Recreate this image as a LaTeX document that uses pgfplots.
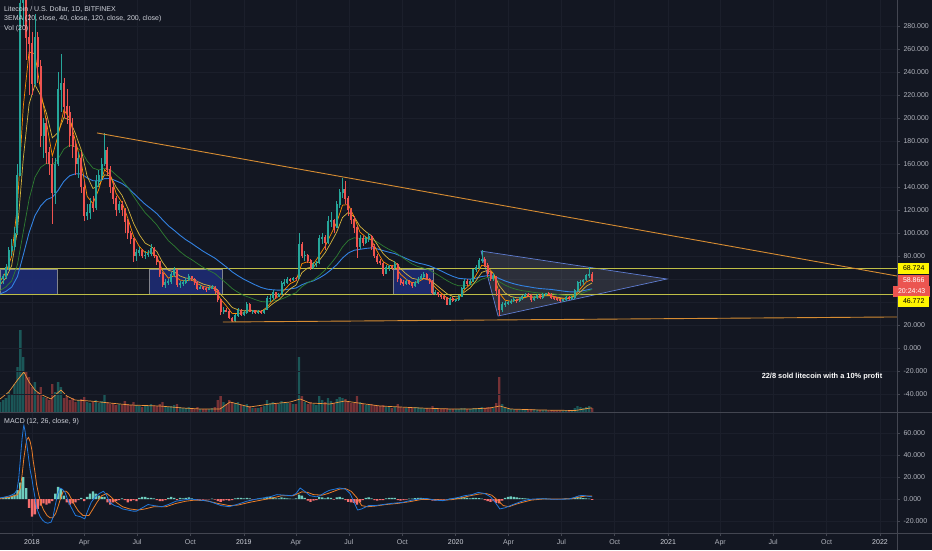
\documentclass[border=0pt]{standalone}
\usepackage{fontspec}
\setmainfont{Liberation Sans}
\usepackage{pgfplots}
\usepackage{pgfplotstable}
\pgfplotsset{compat=1.18}
\definecolor{bg}{RGB}{19,23,34}
\definecolor{gridc}{RGB}{27,31,43}
\definecolor{sepc}{RGB}{67,70,81}
\definecolor{lblc}{RGB}{178,181,190}
\definecolor{txtc}{RGB}{209,212,220}
\definecolor{upc}{RGB}{38,166,154}
\definecolor{dnc}{RGB}{239,83,80}
\definecolor{emaa}{RGB}{255,140,0}
\definecolor{emab}{RGB}{214,180,60}
\definecolor{emac}{RGB}{46,125,50}
\definecolor{emad}{RGB}{50,130,225}
\definecolor{trend}{RGB}{214,140,50}
\definecolor{hline}{RGB}{190,190,70}
\definecolor{rectf}{RGB}{30,44,115}
\definecolor{rectd}{RGB}{130,132,140}
\definecolor{tri}{RGB}{95,125,210}
\definecolor{trif}{RGB}{160,160,170}
\definecolor{macdb}{RGB}{33,120,220}
\definecolor{macdo}{RGB}{235,125,40}
\definecolor{hpos}{RGB}{110,205,190}
\definecolor{hneg}{RGB}{245,110,110}
\definecolor{volma}{RGB}{240,150,60}
\definecolor{boxy}{RGB}{255,245,0}
\definecolor{boxr}{RGB}{235,85,80}

\pgfplotstableread{
d o h l c v
-55 57 62 55 60 10
-50 60 64 56 62 12
-45 62 73 60 70 14
-40 70 88 68 85 20
-35 85 95 80 88 18
-30 88 105 85 100 28
-25 100 160 98 150 45
-20 150 380 150 300 82
-15 300 370 280 320 55
-10 320 330 250 270 40
-5 270 290 220 265 35
0 265 275 220 230 25
5 230 290 228 270 30
10 270 275 230 245 20
15 245 250 175 185 25
20 185 200 165 195 15
25 195 200 160 170 14
30 170 175 150 160 12
35 160 165 108 135 28
40 135 165 125 160 20
45 160 240 158 225 30
50 225 256 205 230 25
55 230 235 200 210 14
60 210 225 195 205 16
65 205 210 175 185 12
70 185 200 165 175 14
75 175 180 150 160 10
80 160 170 148 165 12
85 165 170 135 140 13
90 140 145 110 115 15
95 115 125 111 118 10
100 118 130 112 125 9
105 125 132 118 122 10
110 122 150 120 145 12
115 145 155 140 150 9
120 150 165 145 160 11
125 160 187 158 172 18
130 172 175 150 155 10
135 155 158 135 140 8
140 140 145 125 130 9
145 130 132 115 120 7
150 120 128 117 125 8
155 125 128 115 120 7
160 120 122 100 110 11
165 110 112 95 100 8
170 100 102 90 95 7
175 95 96 75 80 10
180 80 86 76 83 7
185 83 88 80 85 6
190 85 86 78 80 5
195 80 84 77 81 6
200 81 85 79 82 6
205 82 90 80 87 8
210 87 88 78 80 6
215 80 81 72 75 6
220 75 76 62 65 8
225 65 66 53 55 10
230 55 60 52 57 6
235 57 60 55 58 5
240 58 66 56 64 6
245 64 70 62 68 7
250 68 69 53 55 8
255 55 58 52 56 5
260 56 59 54 57 4
265 57 61 56 59 4
270 59 64 58 62 5
275 62 63 58 60 4
280 60 61 55 57 3
285 57 58 50 52 5
290 52 55 51 53 3
295 53 54 50 52 3
300 52 53 49 51 3
305 51 54 50 52 3
310 52 55 51 53 4
315 53 54 47 50 5
320 50 51 40 42 12
325 42 43 29 32 16
330 32 36 30 33 10
335 33 35 31 32 8
340 32 34 25 26 12
345 26 27 22.5 24 10
350 24 30 23 28 9
355 28 35 27 33 10
360 33 34 28 29 7
365 29 32 28 31 6
370 31 40 30 38 8
375 38 39 31 32 6
380 32 33 30 32.5 4
385 32.5 33 30 31 4
390 31 33 30 32 4
395 32 33 30 31 5
400 31 34 30 33 6
405 33 45 33 43 12
410 43 46 40 43.5 9
415 43.5 50 42 48 10
420 48 49 43 45 8
425 45 48 44 47 8
430 47 58 46 56 11
435 56 60 54 57 10
440 57 62 56 60 9
445 60 61 57 59 9
450 59 62 58 61 8
455 61 62 58 60 8
460 60 100 60 90 55
465 90 92 78 80 16
470 80 84 76 81 10
475 81 82 74 76 8
480 76 77 68 70 10
485 70 75 69 73 8
490 73 76 70 74 7
495 74 98 73 95 16
500 95 100 90 96 12
505 96 98 85 92 10
510 92 115 90 110 14
515 110 118 105 111 11
520 111 112 100 105 9
525 105 128 104 125 13
530 125 138 122 135 15
535 135 148 130 138 14
540 138 145 125 130 13
545 130 132 115 120 11
550 120 122 108 112 9
555 112 115 100 105 9
560 105 106 78 88 16
565 88 98 86 95 10
570 95 97 89 92 8
575 92 97 90 95 7
580 95 100 92 97 7
585 97 98 85 88 8
590 88 90 78 80 7
595 80 82 73 75 6
600 75 77 72 74 6
605 74 75 63 65 7
610 65 72 64 70 5
615 70 72 67 71 5
620 71 72 68 70 4
625 70 76 69 73 5
630 73 74 57 60 8
635 60 61 55 57 5
640 57 59 54 56 4
645 56 60 55 58 4
650 58 59 55 56 4
655 56 57 52 54 4
660 54 58 53 57 5
665 57 62 56 60 5
670 60 64 59 62 4
675 62 66 61 64 4
680 64 65 59 60 4
685 60 61 56 58 3
690 58 59 46 48 6
695 48 50 46 48.5 4
700 48.5 49 44 46 3
705 46 47 43 45 3
710 45 46 42 43 3
715 43 44 37 38 4
720 38 44 37 43 3
725 43 44 40 41 3
730 41 43 40 42 3
735 42 46 41 45 3
740 45 53 44 52 4
745 52 60 51 58 4
750 58 60 54 56 3
755 56 60 55 58 3
760 58 69 57 68 4
765 68 72 66 70 4
770 70 78 69 76 4
775 76 85 74 77 5
780 77 79 70 72 4
785 72 74 62 65 5
790 65 67 58 60 5
795 60 65 58 62 4
800 62 63 45 50 9
805 50 51 28 33 35
810 33 40 31 38 8
815 38 41 36 39 4
820 39 41 37 39.5 3
825 39.5 43 38 41 3
830 41 44 40 42 3
835 42 43 39 41 2.5
840 41 44 40 43 2.5
845 43 46 42 45 3
850 45 48 44 47 3
855 47 48 44 46 3
860 46 47 40 42 3
865 42 45 41 44 2.5
870 44 47 43 46 2.5
875 46 47 43 44 2
880 44 48 43 47 2
885 47 48 45 47.5 2
890 47.5 49 46 47 2
895 47 48 43 44 2
900 44 45 42 43 1.5
905 43 44 41 42 1.5
910 42 43 40 41 1.5
915 41 43 40 42 1.5
920 42 45 41 44 2
925 44 45 42 43 1.5
930 43 45 42 44 2
935 44 51 43 50 4
940 50 58 49 57 6
945 57 59 54 57.5 5
950 57.5 60 55 59 4
955 59 64 58 63 5
960 63 70 61 64 6
965 64 66 57 58.9 4
}\candles

\pgfplotstableread{
d e20 e40 e120 e200
-55 58 55 50 47
-45 65.6 60.9 53.1 49.2
-35 79.8 71.6 58.4 52.9
-25 124.2 102.5 72.4 62.1
-15 210.0 164.6 101.1 80.9
-5 257.4 212.0 129.2 100.3
5 255.9 228.9 148.4 115.0
15 223.7 219.5 157.1 123.6
25 196.1 203.9 160.6 129.0
35 167.0 182.7 159.0 131.0
45 184.7 187.5 164.5 137.1
55 207.0 200.3 173.0 145.0
65 199.4 198.2 176.4 149.8
75 179.6 186.3 175.1 151.5
85 160.9 172.0 171.3 151.4
95 131.9 149.5 162.7 147.9
105 125.6 138.7 156.5 145.4
115 137.9 141.2 154.7 145.4
125 155.0 150.6 156.3 147.3
135 150.6 149.6 155.0 147.4
145 134.4 139.9 150.4 145.3
155 126.6 132.8 146.1 143.1
165 113.0 121.8 139.8 139.5
175 97.2 108.5 131.9 134.6
185 88.2 98.5 124.4 129.7
195 83.0 91.2 117.6 125.0
205 83.6 88.4 112.5 121.1
215 79.4 83.9 107.1 116.9
225 67.1 74.5 99.9 111.5
235 60.7 67.6 93.3 106.3
245 62.8 66.2 88.8 102.3
255 59.1 62.6 83.9 98.0
265 58.4 60.8 79.9 94.2
275 59.4 60.5 76.9 91.0
285 56.0 57.9 73.4 87.5
295 53.5 55.6 70.1 84.1
305 52.6 54.2 67.3 81.1
315 51.6 52.9 64.8 78.2
325 42.4 46.6 60.5 74.3
335 36.5 41.2 56.3 70.4
345 29.9 35.2 51.7 66.2
355 30.0 33.2 48.4 62.8
365 30.6 32.3 45.7 59.8
375 32.7 33.0 43.9 57.3
385 31.9 32.4 42.0 54.8
395 31.6 32.0 40.4 52.6
405 35.6 34.4 40.0 51.2
415 41.5 38.6 40.8 50.6
425 45.0 41.9 41.7 50.3
435 50.7 46.7 43.6 50.6
445 56.0 51.5 46.0 51.4
455 58.5 54.8 48.1 52.2
465 73.4 65.5 53.3 55.0
475 75.0 69.6 56.8 57.0
485 73.1 70.5 59.1 58.4
495 80.6 76.2 63.1 60.9
505 88.4 82.8 67.7 64.0
515 98.9 91.5 73.4 67.9
525 109.1 100.8 79.8 72.4
535 124.2 113.5 87.9 78.2
545 124.7 118.0 93.6 82.6
555 114.1 114.1 95.8 85.0
565 100.8 105.8 95.4 85.8
575 96.5 101.2 95.2 86.6
585 93.7 97.6 94.7 87.1
595 83.8 89.9 92.1 86.2
605 75.1 82.1 88.7 84.7
615 71.9 77.3 85.8 83.3
625 71.3 74.8 83.5 82.1
635 64.2 69.0 79.9 80.0
645 59.7 64.3 76.4 77.8
655 56.7 60.6 73.1 75.6
665 57.5 59.6 70.8 73.9
675 60.3 60.5 69.5 72.8
685 58.8 59.5 67.7 71.4
695 52.6 55.4 64.8 69.3
705 47.8 51.3 61.8 67.0
715 43.5 47.2 58.6 64.5
725 41.9 44.8 55.9 62.3
735 43.2 44.5 54.1 60.6
745 50.7 48.6 54.2 60.1
755 55.3 52.3 54.8 59.9
765 63.3 58.5 56.8 60.7
775 72.0 65.8 59.9 62.2
785 70.7 67.5 61.4 62.9
795 64.6 64.9 61.3 62.7
805 47.8 54.3 57.7 60.4
815 41.6 47.9 54.7 58.3
825 40.6 44.8 52.5 56.6
835 41.5 43.7 50.9 55.2
845 43.1 43.8 49.8 54.1
855 44.9 44.7 49.2 53.3
865 44.0 44.2 48.3 52.4
875 44.6 44.5 47.8 51.7
885 46.1 45.5 47.7 51.3
895 45.4 45.3 47.4 50.9
905 43.6 44.2 46.6 50.2
915 42.6 43.3 45.9 49.5
925 43.2 43.4 45.5 48.9
935 45.8 44.9 45.7 48.7
945 51.6 48.9 47.1 49.3
955 57.5 53.7 49.2 50.4
965 59.7 56.6 50.9 51.4
}\ema

\pgfplotstableread{
d h
-55 1
-50 1.5
-45 2
-40 2
-35 3
-30 4
-25 8
-20 15
-15 20
-10 10
-5 -8
0 -16
5 -14
10 -9
15 -6
20 -4
25 -5
30 -4
35 -2
40 5
45 11
50 9
55 3
60 -3
65 -5
70 -4
75 -3
80 -1
85 1
90 -2
95 2
100 5
105 7
110 5
115 3
120 2
125 2
130 -3
135 -5
140 -3
145 -2
150 -1
155 0.5
160 -1
165 -3
170 -2
175 -1
180 -2
185 1
190 2
195 2
200 1
205 1
210 0.5
215 -1
220 -2
225 -2
230 -1
235 1
240 2
245 1
250 -1
255 1
260 0.5
265 1
270 1.5
275 0.5
280 -0.5
285 -1
290 -0.5
295 -0.5
300 -0.3
305 -0.3
310 0.3
315 -0.5
320 -2
325 -2.5
330 -1.5
335 -1
340 -1.5
345 -1
350 0.5
355 1
360 1
365 0.5
370 1
375 0.5
380 -0.5
385 -0.3
390 0.3
395 0.3
400 0.5
405 2
410 2
415 1.5
420 0.5
425 0.5
430 1.5
435 1
440 0.5
445 0.3
450 0.2
455 0.5
460 4
465 3
470 1
475 -1.5
480 -2.5
485 -1.5
490 -1
495 2
500 1.5
505 0.5
510 1.5
515 1
520 -0.5
525 1.5
530 2
535 1
540 -1
545 -2.5
550 -3
555 -3.5
560 -5
565 -3
570 -1
575 1
580 1.5
585 0.5
590 -1
595 -1.5
600 -1
605 -1
610 0.5
615 1
620 1
625 1
630 -1
635 -1.5
640 -1
645 -0.5
650 0.3
655 0.3
660 0.8
665 1
670 1
675 0.8
680 -0.3
685 -0.8
690 -1.5
695 -1.5
700 -1
705 -0.5
710 -0.5
715 -0.5
720 0.3
725 0.5
730 0.8
735 1
740 1.5
745 1.5
750 1
755 0.5
760 1
765 1
770 0.8
775 0.3
780 -1
785 -2
790 -2.5
795 -2
800 -3.5
805 -4
810 -1.5
815 1
820 2
825 2.5
830 2
835 1.5
840 1
845 0.8
850 0.5
855 0.3
860 -0.3
865 -0.3
870 0.2
875 0.1
880 0.3
885 0.3
890 0.2
895 -0.3
900 -0.3
905 -0.3
910 -0.2
915 0.2
920 0.3
925 0.2
930 0.5
935 1.5
940 2
945 1.5
950 0.8
955 0.5
960 0.3
965 -0.8
}\hist

\pgfplotsset{
  tvbase/.style={
    scale only axis, width=897pt, anchor=south west,
    xmin=-55.1, xmax=1490.3,
    axis line style={draw=none},
    tick style={draw=sepc, line width=0.5pt},
    major tick length=3pt, tick align=outside,
    every tick label/.append style={font=\fontsize{7}{8}\selectfont, text=lblc},
    major grid style={draw=gridc, line width=0.6pt},
  },
  dateticks/.style={xtick={0,90,181,273,365,455,546,638,730,821,912,1004,1096,1186,1277,1369,1461}},
}

\begin{document}
\begin{tikzpicture}
\fill[bg] (0pt,0pt) rectangle (932pt,550pt);

% ---------------- volume (background of main panel)
\begin{axis}[tvbase, at={(0pt,138pt)}, height=412pt, ymin=0, ymax=412,
  dateticks, xticklabels={}, ytick=\empty, xmajorgrids, major tick length=0pt]
\addplot[ybar, bar width=2.3pt, bar shift=0pt, fill=upc, fill opacity=0.45, draw=none,
  restrict expr to domain={\thisrow{c}-\thisrow{o}}{0:10000}] table[x=d, y=v]{\candles};
\addplot[ybar, bar width=2.3pt, bar shift=0pt, fill=dnc, fill opacity=0.45, draw=none,
  restrict expr to domain={\thisrow{c}-\thisrow{o}}{-10000:-0.001}] table[x=d, y=v]{\candles};
\addplot[volma, line width=0.7pt] coordinates {(-55,13) (-40,20) (-25,32) (-14,40) (-5,30) (5,22) (14,18) (25,15) (33,13) (42,18) (50,22) (60,16) (74,12) (100,11) (134,9) (169,7) (220,6) (260,4) (290,3) (324,3) (341,10) (355,8) (375,5) (410,8) (445,10) (462,13) (479,9) (513,8) (539,11) (574,8) (600,6) (634,5) (669,4) (721,3) (755,3) (789,4) (806,6) (824,3) (875,2) (936,1.5) (962,4) (965,4)};
\end{axis}

% ---------------- price panel
\begin{axis}[tvbase, at={(0pt,138pt)}, height=412pt, ymin=-55.65, ymax=302.6,
  xtick=\empty,
  ytick={-40,-20,0,20,40,60,80,100,120,140,160,180,200,220,240,260,280},
  yticklabels={-40.000,-20.000,0.000,20.000,{},{},80.000,100.000,120.000,140.000,160.000,180.000,200.000,220.000,240.000,260.000,280.000},
  ytick pos=right, yticklabel pos=right, ymajorgrids]
% blue boxes
\addplot[fill=rectf, fill opacity=0.9, draw=rectd, line width=0.5pt] coordinates {(-55.1,46.772) (43,46.772) (43,68.724) (-55.1,68.724)} -- cycle;
\addplot[fill=rectf, fill opacity=0.9, draw=rectd, line width=0.5pt] coordinates {(202,46.772) (327,46.772) (327,68.724) (202,68.724)} -- cycle;
\addplot[fill=rectf, fill opacity=0.9, draw=rectd, line width=0.5pt] coordinates {(622,46.772) (692,46.772) (692,68.724) (622,68.724)} -- cycle;
% triangle
\addplot[fill=trif, fill opacity=0.18, draw=tri, line width=0.7pt] coordinates {(773.6,84.3) (803,27.8) (1094,60)} -- cycle;
% horizontal levels
\addplot[hline, line width=1pt] coordinates {(-55.1,68.724) (1490.3,68.724)};
\addplot[hline, line width=1pt] coordinates {(-55.1,46.772) (1490.3,46.772)};
% EMAs
\addplot[emad, line width=0.9pt] table[x=d, y=e200]{\ema};
\addplot[emac, line width=0.7pt] table[x=d, y=e120]{\ema};
\addplot[emab, line width=0.7pt] table[x=d, y=e40]{\ema};
\addplot[emaa, line width=0.7pt] table[x=d, y=e20]{\ema};
% candles: wicks
\addplot[draw=none, mark=none, restrict expr to domain={\thisrow{c}-\thisrow{o}}{0:10000},
  error bars/.cd, y dir=both, y explicit, error mark=none,
  error bar style={draw=upc, line width=0.6pt}]
  table[x=d, y=c, y error plus expr=\thisrow{h}-\thisrow{c}, y error minus expr=\thisrow{c}-\thisrow{l}]{\candles};
\addplot[draw=none, mark=none, restrict expr to domain={\thisrow{c}-\thisrow{o}}{-10000:-0.001},
  error bars/.cd, y dir=both, y explicit, error mark=none,
  error bar style={draw=dnc, line width=0.6pt}]
  table[x=d, y=c, y error plus expr=\thisrow{h}-\thisrow{c}, y error minus expr=\thisrow{c}-\thisrow{l}]{\candles};
% candles: bodies
\addplot[draw=none, mark=none, restrict expr to domain={\thisrow{c}-\thisrow{o}}{0:10000},
  error bars/.cd, y dir=both, y explicit, error mark=none,
  error bar style={draw=upc, line width=2pt}]
  table[x=d, y expr=(\thisrow{o}+\thisrow{c})/2, y error expr=abs(\thisrow{c}-\thisrow{o})/2+0.3]{\candles};
\addplot[draw=none, mark=none, restrict expr to domain={\thisrow{c}-\thisrow{o}}{-10000:-0.001},
  error bars/.cd, y dir=both, y explicit, error mark=none,
  error bar style={draw=dnc, line width=2pt}]
  table[x=d, y expr=(\thisrow{o}+\thisrow{c})/2, y error expr=abs(\thisrow{c}-\thisrow{o})/2+0.3]{\candles};
% trend lines
\addplot[trend, line width=0.9pt] coordinates {(112,187) (1490.3,62.6)};
\addplot[trend, line width=0.9pt] coordinates {(329,22.6) (1490.3,27)};
\end{axis}

% ---------------- MACD panel
\begin{axis}[tvbase, at={(0pt,17pt)}, height=121pt, ymin=-30.9, ymax=79.1,
  dateticks,
  xticklabels={\textcolor{txtc}{2018},Apr,Jul,Oct,\textcolor{txtc}{2019},Apr,Jul,Oct,\textcolor{txtc}{2020},Apr,Jul,Oct,\textcolor{txtc}{2021},Apr,Jul,Oct,\textcolor{txtc}{2022}},
  xtick pos=bottom,
  ytick={-20,0,20,40,60}, yticklabels={-20.000,0.000,20.000,40.000,60.000},
  ytick pos=right, yticklabel pos=right, xmajorgrids, ymajorgrids]
\addplot[ybar, bar width=2.3pt, bar shift=0pt, fill=hpos, draw=none, restrict y to domain=0:200] table[x=d, y=h]{\hist};
\addplot[ybar, bar width=2.3pt, bar shift=0pt, fill=hneg, draw=none, restrict y to domain=-200:0] table[x=d, y=h]{\hist};
\addplot[macdo, line width=0.8pt] coordinates {(-55,0.5) (-40,1.5) (-30,3) (-25,4) (-20,10) (-17,22) (-14,37) (-11,48) (-9,54) (-6,56) (-3,52) (0,44) (2,35) (5,25) (8,13) (12,3) (16,-5) (20,-10) (26,-15) (31,-17) (36,-17) (41,-13) (46,-5) (50,2) (54,7) (59,7) (63,5) (68,0) (74,-6) (80,-11) (88,-15) (98,-15) (104,-10) (112,-3) (120,3) (129,5) (136,2) (145,-3) (156,-7) (168,-9) (183,-10) (195,-9) (210,-7) (231,-7) (248,-4) (265,-2) (280,-1) (300,-1.5) (320,-4) (340,-6) (355,-5.5) (375,-3) (395,-1) (415,1) (430,3) (450,3) (465,6.5) (475,6) (485,4) (500,3.5) (510,5) (520,7) (530,9) (540,9.5) (550,7) (560,1) (568,-6) (578,-7) (590,-6.5) (610,-5) (630,-4) (650,-2.5) (670,-0.5) (690,-0.5) (710,-1) (725,-0.5) (740,1) (755,3) (770,4.5) (782,5) (792,3.5) (802,-1) (812,-6) (822,-7) (832,-5) (845,-3) (860,-1) (880,0) (910,0) (930,0.3) (945,2) (955,2.8) (965,2.6)};
\addplot[macdb, line width=0.8pt] coordinates {(-55,1) (-45,2) (-38,3) (-30,5) (-26,8) (-23,18) (-21,30) (-19,43) (-17,55) (-15,64) (-14,67) (-12,62) (-9,50) (-6,38) (-3,26) (0,18) (2,11) (5,2) (7,-5) (10,-11) (14,-16) (18,-19) (22,-21) (27,-22) (33,-21) (36,-17) (40,-6) (44,4) (48,10) (52,9) (57,6) (61,0) (65,-5) (70,-10) (75,-15) (83,-16) (91,-18) (95,-12) (102,-3) (109,2) (116,5) (123,7) (128,4) (134,-3) (142,-6) (149,-7) (156,-9) (165,-10) (174,-11) (180,-11) (190,-8) (200,-5) (210,-6) (224,-7) (235,-5) (248,-2) (260,-1) (272,0) (290,-1) (305,-2) (326,-6) (340,-7) (353,-5) (370,-2) (387,0) (410,2) (422,4) (435,3.5) (448,3) (455,5) (462,10) (470,7) (479,3) (490,2) (496,3) (505,6) (513,8) (522,9) (530,10) (540,9) (548,5) (555,-3) (561,-10) (568,-9) (580,-6) (591,-6) (605,-5) (619,-4) (639,-3) (655,-1) (667,0) (680,0.5) (694,-1) (708,-1.5) (721,0) (735,1.5) (745,3) (758,4) (769,6) (780,5) (790,2) (798,-3) (806,-9) (815,-8) (824,-6) (834,-4) (844,-2) (855,-0.5) (864,0) (880,0.3) (900,-0.3) (925,0) (935,1.5) (943,3) (950,3.2) (958,2.5) (965,2)};
\end{axis}

% ---------------- frame lines
\draw[sepc, line width=0.6pt] (897pt,0pt) -- (897pt,550pt);
\draw[sepc, line width=0.6pt] (0pt,138pt) -- (932pt,138pt);
\draw[sepc, line width=0.6pt] (0pt,17pt) -- (932pt,17pt);

% ---------------- price tags
\node[fill=boxy, text=black, font=\fontsize{7}{8}\selectfont, inner sep=0pt, minimum width=31pt, minimum height=11pt, anchor=west] at (898pt,282pt) {68.724};
\node[fill=boxr, text=white, font=\fontsize{7}{8}\selectfont, inner sep=0pt, minimum width=31pt, minimum height=11pt, anchor=west] at (898pt,270pt) {58.866};
\node[fill=boxr, text=white, font=\fontsize{7}{8}\selectfont, inner sep=0pt, minimum width=37pt, minimum height=11pt, anchor=west] at (893pt,259pt) {20:24:43};
\node[fill=boxy, text=black, font=\fontsize{7}{8}\selectfont, inner sep=0pt, minimum width=31pt, minimum height=11pt, anchor=west] at (898pt,249pt) {46.772};

% ---------------- texts
\node[anchor=west, text=txtc, font=\fontsize{7}{8}\selectfont, inner sep=0pt] at (4pt,541pt) {Litecoin / U.S. Dollar, 1D, BITFINEX};
\node[anchor=west, text=txtc, font=\fontsize{7}{8}\selectfont, inner sep=0pt] at (4pt,531pt) {3EMA (20, close, 40, close, 120, close, 200, close)};
\node[anchor=west, text=txtc, font=\fontsize{7}{8}\selectfont, inner sep=0pt] at (4pt,521pt) {Vol (20)};
\node[anchor=west, text=txtc, font=\fontsize{7}{8}\selectfont, inner sep=0pt] at (4pt,128pt) {MACD (12, 26, close, 9)};
\node[text=white, font=\bfseries\fontsize{7.4}{9}\selectfont, inner sep=0pt] at (822pt,173pt) {22/8 sold litecoin with a 10\% profit};

\pgfresetboundingbox
\path[use as bounding box] (0pt,0pt) rectangle (932pt,550pt);
\end{tikzpicture}
\end{document}
